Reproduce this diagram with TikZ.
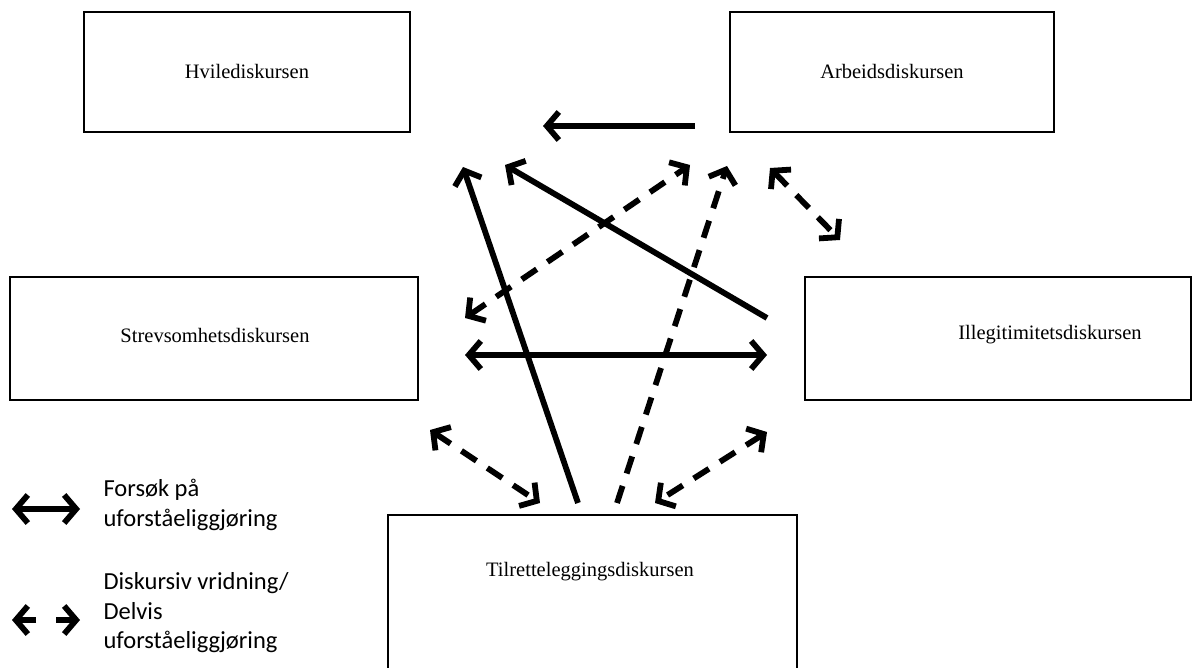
\documentclass[tikz,border=0pt]{standalone}
\usepackage{fontspec}
\setmainfont{Liberation Serif}
\newfontfamily\legendfont{Carlito}
\usetikzlibrary{arrows.meta}
\begin{document}
\begin{tikzpicture}[x=1pt,y=-1pt,
  box/.style={draw,line width=1.6pt},
  lbl/.style={font=\fontsize{20.5}{24}\selectfont},
  sol/.style={line width=5.8pt,-{Straight Barb[length=12,width=28]}},
  solb/.style={line width=5.8pt,{Straight Barb[length=12,width=28]}-{Straight Barb[length=12,width=28]}},
  dsh/.style={line width=5.8pt,dash pattern=on 18pt off 13pt,-{Straight Barb[length=12,width=28]}},
  dshb/.style={line width=5.8pt,dash pattern=on 18pt off 13pt,{Straight Barb[length=12,width=28]}-{Straight Barb[length=12,width=28]}},
  leg/.style={font=\legendfont\fontsize{24.5}{29.5}\selectfont,align=left,anchor=west}]
\useasboundingbox (0,0) rectangle (1203,668);
% boxes
\draw[box] (84,12) rectangle (410,132);
\node[lbl] (hvile) at (247,71) {Hvilediskursen};
\draw[box] (730,12) rectangle (1054,132);
\node[lbl] (arb) at (892,71) {Arbeidsdiskursen};
\draw[box] (10,277) rectangle (418,400);
\node[lbl] (strev) at (215,335) {Strevsomhetsdiskursen};
\draw[box] (805,277) rectangle (1191,400);
\node[lbl] (illeg) at (1050,335) {Illegitimitetsdiskursen};
\draw[box] (388,670) -- (388,515) -- (797,515) -- (797,670);
\node[lbl] (tilr) at (590,572) {Tilretteleggingsdiskursen};
% arrow end points
\coordinate (a1s) at (695,126); \coordinate (a1e) at (543,126);
\coordinate (a2s) at (578,503); \coordinate (a2e) at (463,167);
\coordinate (a3s) at (767,318); \coordinate (a3e) at (505,165);
\coordinate (a4s) at (465,355); \coordinate (a4e) at (767,355);
\coordinate (a5s) at (465,318); \coordinate (a5e) at (690,165);
\coordinate (a6s) at (617,503); \coordinate (a6e) at (727,166);
\coordinate (a7s) at (770,168); \coordinate (a7e) at (840,240);
\coordinate (a8s) at (430,430); \coordinate (a8e) at (540,503);
\coordinate (a9s) at (767,432); \coordinate (a9e) at (655,503);
\draw[sol] (a1s) -- (a1e);
\draw[sol] (a2s) -- (a2e);
\draw[sol] (a3s) -- (a3e);
\draw[solb] (a4s) -- (a4e);
\draw[dshb] (a5s) -- (a5e);
\draw[dsh] (a6s) -- (a6e);
\draw[dshb] (a7s) -- (a7e);
\draw[dshb] (a8s) -- (a8e);
\draw[dshb] (a9s) -- (a9e);
% legend
\coordinate (l1s) at (12,509); \coordinate (l1e) at (80,509);
\draw[solb] (l1s) -- (l1e);
\coordinate (l2a) at (12,620); \coordinate (l2b) at (36,620);
\coordinate (l2c) at (56,620); \coordinate (l2d) at (80,620);
\draw[sol] (l2b) -- (l2a);
\draw[sol] (l2c) -- (l2d);
\node[leg] (leg1) at (100,505) {Forsøk på\\uforståeliggjøring};
\node[leg] (leg2) at (100,613) {Diskursiv vridning/\\Delvis\\uforståeliggjøring};
\end{tikzpicture}
\end{document}
